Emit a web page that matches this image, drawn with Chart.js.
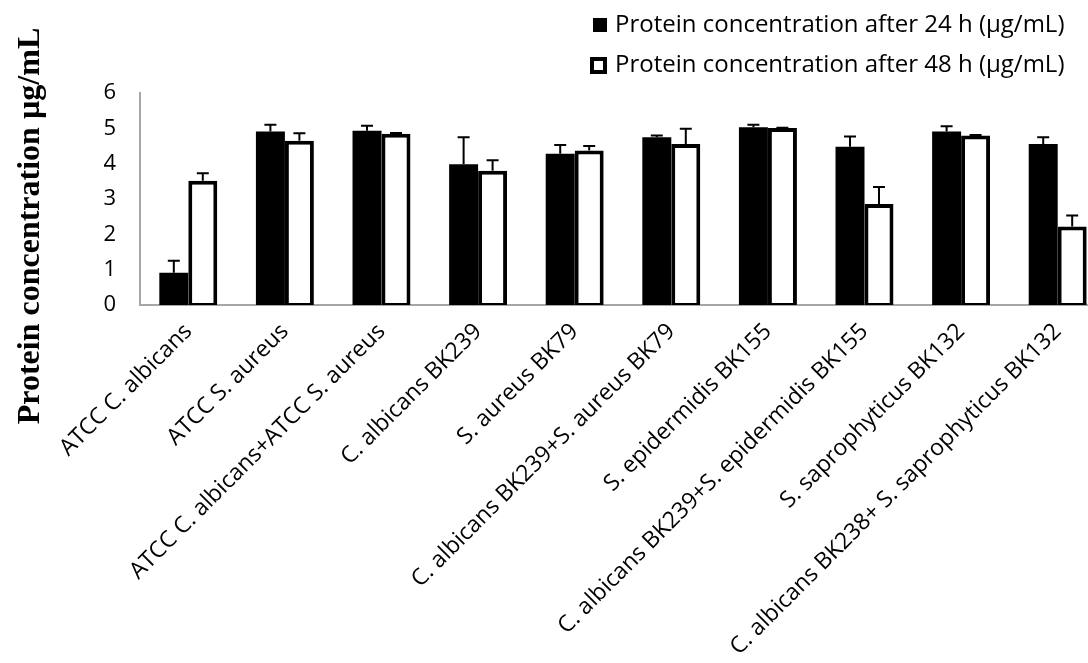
<!DOCTYPE html>
<html>
<head>
<meta charset="utf-8">
<script src="https://cdn.jsdelivr.net/npm/chart.js@4.4.1/dist/chart.umd.min.js"></script>
<style>
  html, body { margin: 0; padding: 0; background: #fff; overflow: hidden; }
  #clip { width: 1088px; height: 663px; overflow: hidden; position: relative; }
  /* the plot runs past the right edge, as in the source image */
  #wrap { width: 1106px; height: 663px; position: absolute; left: 0; top: 0; }
</style>
</head>
<body>
<div id="clip"><div id="wrap"><canvas id="chart"></canvas></div></div>
<script>
// categories on the x axis
const strains = [
  "ATCC C. albicans",
  "ATCC S. aureus",
  "ATCC C. albicans+ATCC S. aureus",
  "C. albicans BK239",
  "S. aureus BK79",
  "C. albicans BK239+S. aureus BK79",
  "S. epidermidis BK155",
  "C. albicans BK239+S. epidermidis BK155",
  "S. saprophyticus BK132",
  "C. albicans BK238+ S. saprophyticus BK132"
];

// protein concentration (µg/mL) and error (upper bar only)
const protein24 = [0.91, 4.91, 4.93, 3.98, 4.28, 4.75, 5.03, 4.48, 4.91, 4.56];
const error24   = [0.34, 0.19, 0.14, 0.77, 0.25, 0.05, 0.07, 0.29, 0.15, 0.19];
const protein48 = [3.52, 4.65, 4.85, 3.80, 4.37, 4.56, 5.01, 2.86, 4.80, 2.22];
const error48   = [0.21, 0.21, 0.02, 0.30, 0.13, 0.43, 0.01, 0.48, 0.01, 0.31];

const seriesNames = [
  "Protein concentration after 24 h (µg/mL)",
  "Protein concentration after 48 h (µg/mL)"
];
const yTicks = [0, 1, 2, 3, 4, 5, 6];
const yTitle = "Protein concentration µg/mL";

const sansFont = "'Open Sans', 'Noto Sans', sans-serif";

// whiskers drawn upward from each bar top
const errorBars = {
  id: 'errorBars',
  afterDatasetsDraw(chart) {
    const ctx = chart.ctx;
    const yScale = chart.scales.y;
    ctx.save();
    ctx.strokeStyle = '#000';
    ctx.lineWidth = 2;
    chart.data.datasets.forEach((ds, di) => {
      const meta = chart.getDatasetMeta(di);
      meta.data.forEach((bar, i) => {
        const top = yScale.getPixelForValue(ds.data[i] + ds.errors[i]);
        ctx.beginPath();
        ctx.moveTo(bar.x, bar.y);
        ctx.lineTo(bar.x, top);
        ctx.moveTo(bar.x - 6, top);
        ctx.lineTo(bar.x + 6, top);
        ctx.stroke();
      });
    });
    ctx.restore();
  }
};

// y title + stacked legend in the top right
const decorations = {
  id: 'decorations',
  afterDraw(chart) {
    const ctx = chart.ctx;
    ctx.save();
    ctx.fillStyle = '#000';
    ctx.font = "bold 32px 'Liberation Serif', 'Times New Roman', serif";
    ctx.textAlign = 'center';
    ctx.textBaseline = 'middle';
    ctx.translate(31, 226);
    ctx.rotate(-Math.PI / 2);
    ctx.fillText(yTitle, 0, 0);
    ctx.restore();

    ctx.save();
    ctx.font = "24px " + sansFont;
    ctx.textBaseline = 'middle';
    ctx.textAlign = 'left';
    chart.data.datasets.forEach((ds, i) => {
      const cy = i === 0 ? 25 : 65;
      if (ds.borderWidth > 0) {
        ctx.fillStyle = ds.backgroundColor;
        ctx.fillRect(592, cy - 7, 14, 14);
        ctx.strokeStyle = ds.borderColor;
        ctx.lineWidth = 4;
        ctx.strokeRect(592, cy - 6, 13, 13);
      } else {
        ctx.fillStyle = ds.backgroundColor;
        ctx.fillRect(593, cy - 7, 14, 14);
      }
      ctx.fillStyle = '#000';
      ctx.fillText(ds.label, 615, cy);
    });
    ctx.restore();
  }
};

new Chart(document.getElementById('chart'), {
  type: 'bar',
  data: {
    labels: strains,
    datasets: [
      {
        label: seriesNames[0],
        data: protein24,
        errors: error24,
        backgroundColor: '#000',
        borderColor: '#000',
        borderWidth: 0,
        barPercentage: 1,
        categoryPercentage: 0.6
      },
      {
        label: seriesNames[1],
        data: protein48,
        errors: error48,
        backgroundColor: '#fff',
        borderColor: '#000',
        borderWidth: 4,
        borderSkipped: false,
        base: -0.06, // outline dips just under the axis line
        barPercentage: 1,
        categoryPercentage: 0.6
      }
    ]
  },
  options: {
    responsive: true,
    maintainAspectRatio: false,
    animation: false,
    layout: {
      padding: { top: 93, right: 0, bottom: 0, left: 0 }
    },
    scales: {
      x: {
        z: 1,
        grid: { display: false, drawTicks: false },
        border: { color: '#a6a6a6', width: 2 },
        ticks: {
          color: '#000',
          font: { family: sansFont, size: 23 },
          minRotation: 45,
          maxRotation: 45,
          autoSkip: false,
          padding: 13
        },
        afterFit(scale) { scale.height = 663 - 305; }
      },
      y: {
        min: 0,
        max: 6,
        grid: { display: false, drawTicks: false },
        border: { color: '#a6a6a6', width: 2 },
        afterBuildTicks(scale) {
          scale.ticks = yTicks.map(v => ({ value: v }));
        },
        ticks: {
          color: '#000',
          font: { family: sansFont, size: 22 },
          padding: 24
        },
        afterFit(scale) { scale.width = 140; }
      }
    },
    plugins: {
      legend: { display: false },
      tooltip: { enabled: false }
    }
  },
  plugins: [errorBars, decorations]
});
</script>
</body>
</html>
